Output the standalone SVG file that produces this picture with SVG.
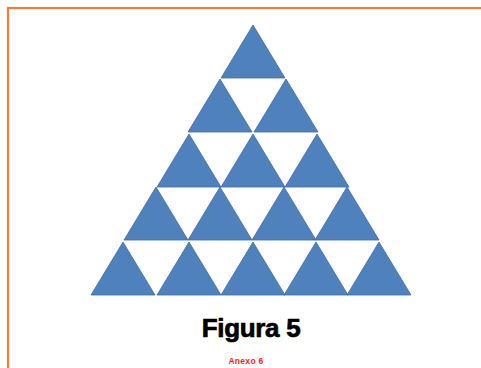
<svg xmlns="http://www.w3.org/2000/svg" width="481" height="368" viewBox="0 0 481 368">
  <defs>
    <style>
      .tri { fill: #4F81BD; stroke: #3F6DA5; stroke-width: 0.8; stroke-linejoin: miter; }
      .frame { fill: none; stroke: #F07F35; stroke-width: 2.2; }
      .title { font-family: "Liberation Sans", Arial, sans-serif; font-weight: bold; font-size: 26px; fill: #000; stroke: #000; stroke-width: 0.7; letter-spacing: -0.3px; }
      .note { font-family: "Liberation Sans", Arial, sans-serif; font-weight: bold; font-size: 8.5px; fill: #FF2020; letter-spacing: 0.3px; }
    </style>
    <!-- one up-pointing triangle, apex at origin -->
    <path id="t" d="M0,0 L32,53 L-32,53 Z"/>
  </defs>

  <rect width="481" height="368" fill="#FFFFFF"/>
  <!-- page frame, running off the right and bottom edges -->
  <rect class="frame" x="8" y="8" width="500" height="400"/>

  <!-- row 1 -->
  <g id="r1t1"><use href="#t" class="tri" x="253" y="25"/></g>
  <!-- row 2 -->
  <g id="r2t1"><use href="#t" class="tri" x="220" y="79"/></g>
  <g id="r2t2"><use href="#t" class="tri" x="286" y="79"/></g>
  <!-- row 3 -->
  <g id="r3t1"><use href="#t" class="tri" x="189" y="134"/></g>
  <g id="r3t2"><use href="#t" class="tri" x="253" y="134"/></g>
  <g id="r3t3"><use href="#t" class="tri" x="317" y="134"/></g>
  <!-- row 4 -->
  <g id="r4t1"><use href="#t" class="tri" x="156" y="187"/></g>
  <g id="r4t2"><use href="#t" class="tri" x="220" y="187"/></g>
  <g id="r4t3"><use href="#t" class="tri" x="284" y="187"/></g>
  <g id="r4t4"><use href="#t" class="tri" x="347" y="187"/></g>
  <!-- row 5 -->
  <g id="r5t1"><use href="#t" class="tri" x="123" y="242"/></g>
  <g id="r5t2"><use href="#t" class="tri" x="189" y="242"/></g>
  <g id="r5t3"><use href="#t" class="tri" x="253" y="242"/></g>
  <g id="r5t4"><use href="#t" class="tri" x="316" y="242"/></g>
  <g id="r5t5"><use href="#t" class="tri" x="379" y="242"/></g>

  <g id="connectors"></g>

  <text class="title" x="251" y="337" text-anchor="middle">Figura 5</text>
  <text class="note" x="246" y="364" text-anchor="middle">Anexo 6</text>
</svg>
